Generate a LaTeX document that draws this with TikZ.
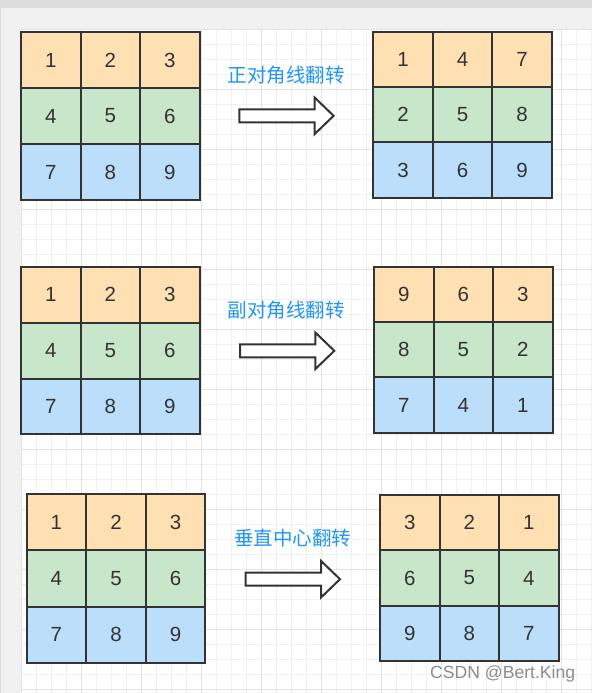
\documentclass[tikz,border=0pt]{standalone}
\usepackage{fontspec}
\setmainfont{Liberation Sans}
\newfontfamily\cjk{Noto Sans CJK SC}
\usetikzlibrary{positioning}
\definecolor{row0}{HTML}{FFE0B2}
\definecolor{row1}{HTML}{C8E6C9}
\definecolor{row2}{HTML}{BBDEFB}
\definecolor{inkcol}{HTML}{333333}
\definecolor{labelblue}{HTML}{2196F3}
\definecolor{pagegray}{HTML}{F1F1F1}
\definecolor{bandgray}{HTML}{DDDDDD}
\definecolor{gridminor}{HTML}{F0F0F0}
\definecolor{gridmajor}{HTML}{E4E4E4}

% one 3x3 table: name, left x, top y, row height, nine digits
\newcommand{\numgrid}[5]{%
  \foreach \d [count=\i from 0] in {#5} {
    \pgfmathtruncatemacro\r{int(\i/3)}
    \pgfmathtruncatemacro\c{mod(\i,3)}
    \node[cell, fill=row\r, minimum height=#4] (#1-\r\c)
      at ({#2+(\c+0.5)*59.5}, {#3+(\r+0.5)*#4}) {\d};
  }
}
% hollow block arrow starting at the given coordinate (left end, middle)
\newcommand{\flipArrow}[1]{%
  \draw[blockarrow] (#1) ++(0,-6.5) -- ++(75.3,0) -- ++(0,-11.8)
    -- ++(19,18.3) -- ++(-19,18.3) -- ++(0,-11.8) -- ++(-75.3,0) -- cycle;
}

\begin{document}
\begin{tikzpicture}[
    x=1pt, y=-1pt,
    cell/.style={rectangle, draw=inkcol, line width=2pt, minimum width=59.5pt,
                 inner sep=0pt, text=inkcol, font=\fontsize{20.5}{24}\selectfont},
    blockarrow/.style={draw=inkcol, fill=white, line width=2pt, line join=miter},
    fliplabel/.style={text=labelblue, font=\cjk\fontsize{19.5}{23}\selectfont, inner sep=0pt},
    watermark/.style={text=black!45, font=\fontsize{17.6}{20}\selectfont, inner sep=0pt}
  ]
  \useasboundingbox (0,0) rectangle (592,693);

  %% --- editor background: gray frame, white canvas, grid ---
  \fill[pagegray] (0,0) rectangle (592,693);
  \fill[bandgray] (0,0) rectangle (592,8);
  \draw[bandgray, line width=1pt] (0.5,8) -- (0.5,693);
  \fill[white] (21.7,29.3) rectangle (592,693);
  \foreach \k in {0,...,38}
    \draw[gridminor, line width=1pt] ({21.7+15*\k},29.3) -- ({21.7+15*\k},693);
  \foreach \k in {0,...,44}
    \draw[gridminor, line width=1pt] (21.7,{29.3+15*\k}) -- (592,{29.3+15*\k});
  \foreach \k in {0,...,9}
    \draw[gridmajor, line width=1pt] ({21.7+60*\k},29.3) -- ({21.7+60*\k},693);
  \foreach \k in {0,...,11}
    \draw[gridmajor, line width=1pt] (21.7,{29.3+60*\k}) -- (592,{29.3+60*\k});

  %% --- row 1: main diagonal ---
  \numgrid{srcA}{21}{32}{56}{1,2,3,4,5,6,7,8,9}
  \numgrid{dstA}{373.3}{32}{55.2}{1,4,7,2,5,8,3,6,9}
  \coordinate (arrA) at (239.3,115.8);
  \flipArrow{arrA}
  \node[fliplabel] (labA) at (286,75.5) {正对角线翻转};

  %% --- row 2: anti-diagonal ---
  \numgrid{srcB}{21}{266.7}{55.9}{1,2,3,4,5,6,7,8,9}
  \numgrid{dstB}{374}{266.7}{55.3}{9,6,3,8,5,2,7,4,1}
  \coordinate (arrB) at (240,350.8);
  \flipArrow{arrB}
  \node[fliplabel] (labB) at (286.3,310.5) {副对角线翻转};

  %% --- row 3: vertical centre line ---
  \numgrid{srcC}{26.7}{494.3}{56.1}{1,2,3,4,5,6,7,8,9}
  \numgrid{dstC}{380}{495}{55.3}{3,2,1,6,5,4,9,8,7}
  \coordinate (arrC) at (245.7,579.2);
  \flipArrow{arrC}
  \node[fliplabel] (labC) at (292.5,538) {垂直中心翻转};

  \node[watermark] (credit) at (502.7,673.5) {CSDN @Bert.King};
\end{tikzpicture}
\end{document}
